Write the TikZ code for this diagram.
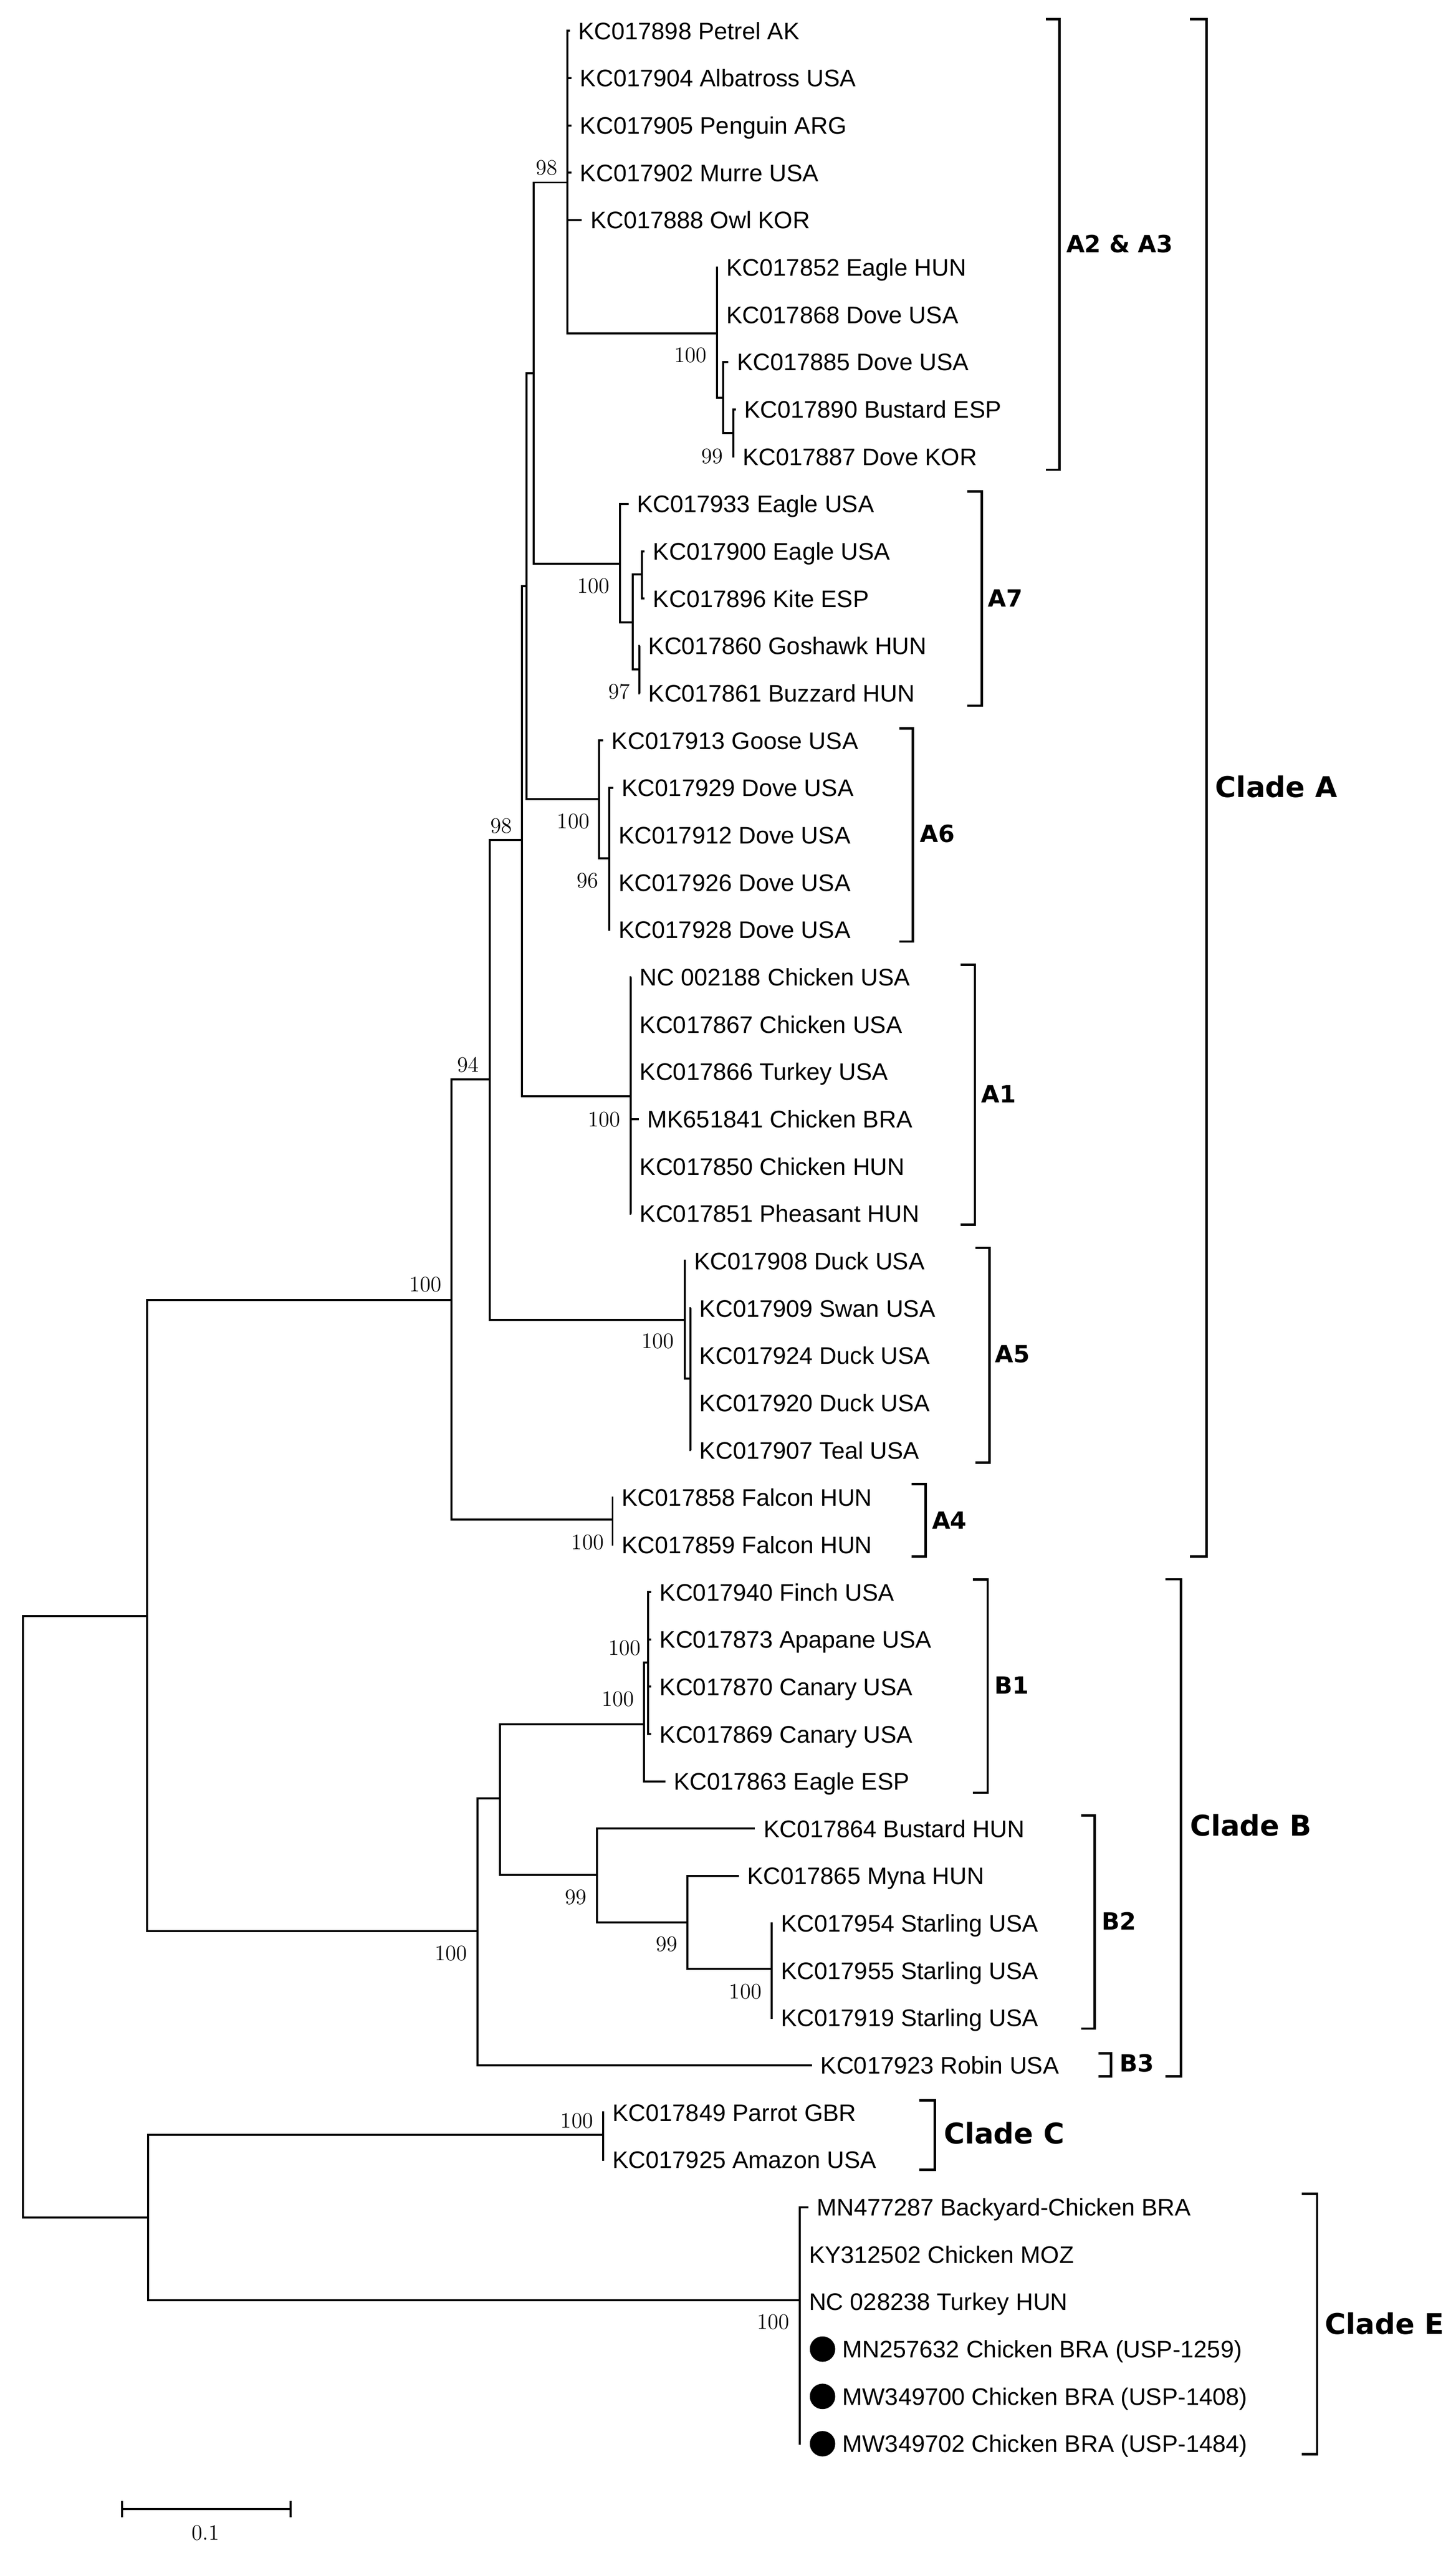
\documentclass[tikz,border=0pt]{standalone}
\usepackage{fontspec}
\newfontfamily\leaffont{Liberation Sans}
\newfontfamily\cladefont{DejaVu Sans}
\begin{document}
\begin{tikzpicture}[x=1pt,y=-1pt,
  br/.style={line width=1.25pt},
  bk/.style={line width=1.5pt},
  leaf/.style={anchor=base west,inner sep=0pt,font=\leaffont\fontsize{14.7}{16}\selectfont},
  bs/.style={inner sep=0pt,font=\rmfamily\fontsize{13.5}{14}\selectfont},
  sub/.style={anchor=west,inner sep=0pt,font=\cladefont\bfseries\fontsize{14.5}{16}\selectfont},
  clade/.style={anchor=west,inner sep=0pt,font=\cladefont\bfseries\fontsize{17.5}{20}\selectfont},
  dot/.style={circle,fill=black,inner sep=0pt,minimum size=15.6pt}]
\useasboundingbox (0,0) rectangle (893,1566.5);
% internal nodes
\coordinate (root) at (14,1176);
\coordinate (nAB) at (90.3,991.7);
\coordinate (nA) at (277,797.7);
\coordinate (n94) at (300.4,662.3);
\coordinate (n98b) at (320.2,515.5);
\coordinate (nX) at (323,359.6);
\coordinate (nY) at (327.3,229);
\coordinate (nA23) at (348.2,112);
\coordinate (nSub) at (439.8,204.5);
\coordinate (n885) at (443.6,244);
\coordinate (n890) at (449.9,265.6);
\coordinate (nA7) at (380.3,346);
\coordinate (nA7b) at (388.1,382);
\coordinate (n900) at (393.8,352.6);
\coordinate (n860) at (392.1,410.8);
\coordinate (nA6) at (367.6,490.4);
\coordinate (n929) at (373.9,526.7);
\coordinate (nA1) at (386.8,672.5);
\coordinate (nA5) at (420.2,809.9);
\coordinate (n909) at (423.5,845.8);
\coordinate (nA4) at (375.8,932.5);
\coordinate (nB) at (292.8,1185);
\coordinate (nB12) at (306.8,1103.5);
\coordinate (nB1) at (395,1057.9);
\coordinate (nBA) at (397.6,1020);
\coordinate (nB2) at (366.3,1150.5);
\coordinate (n99b) at (421.8,1179.7);
\coordinate (nSt) at (473.5,1208.2);
\coordinate (nCE) at (91,1360.6);
\coordinate (nC) at (370.1,1310);
\coordinate (nE) at (490.6,1411.4);
% internal branches
\foreach \p/\c in {root/nAB,root/nCE,nAB/nA,nAB/nB,nA/n94,nA/nA4,n94/n98b,n94/nA5,n98b/nX,n98b/nA1,
  nX/nY,nX/nA6,nY/nA23,nY/nA7,nA23/nSub,nSub/n885,n885/n890,nA7/nA7b,nA7b/n900,nA7b/n860,
  nA6/n929,nA5/n909,nB/nB12,nB12/nB1,nB12/nB2,nB1/nBA,nB2/n99b,n99b/nSt,nCE/nC,nCE/nE}
  \draw[br] (\p) |- (\c);
% leaves
\foreach \i/\tx/\p/\t in {
 1/349.6/nA23/KC017898 Petrel AK,
 2/350.7/nA23/KC017904 Albatross USA,
 3/350.7/nA23/KC017905 Penguin ARG,
 4/350.7/nA23/KC017902 Murre USA,
 5/357/nA23/KC017888 Owl KOR,
 6/440.5/nSub/KC017852 Eagle HUN,
 7/440.5/nSub/KC017868 Dove USA,
 8/446.9/n885/KC017885 Dove USA,
 9/451.4/n890/KC017890 Bustard ESP,
 10/450.4/n890/KC017887 Dove KOR,
 11/385.6/nA7/KC017933 Eagle USA,
 12/395.5/n900/KC017900 Eagle USA,
 13/395.5/n900/KC017896 Kite ESP,
 14/392.6/n860/KC017860 Goshawk HUN,
 15/392.6/n860/KC017861 Buzzard HUN,
 16/370.1/nA6/KC017913 Goose USA,
 17/376.3/n929/KC017929 Dove USA,
 18/374.4/n929/KC017912 Dove USA,
 19/374.4/n929/KC017926 Dove USA,
 20/374.4/n929/KC017928 Dove USA,
 21/387.3/nA1/NC 002188 Chicken USA,
 22/387.3/nA1/KC017867 Chicken USA,
 23/387.3/nA1/KC017866 Turkey USA,
 24/391.9/nA1/MK651841 Chicken BRA,
 25/387.3/nA1/KC017850 Chicken HUN,
 26/387.3/nA1/KC017851 Pheasant HUN,
 27/420.7/nA5/KC017908 Duck USA,
 28/424/n909/KC017909 Swan USA,
 29/424/n909/KC017924 Duck USA,
 30/424/n909/KC017920 Duck USA,
 31/424/n909/KC017907 Teal USA,
 32/376.3/nA4/KC017858 Falcon HUN,
 33/376.3/nA4/KC017859 Falcon HUN,
 34/399.5/nBA/KC017940 Finch USA,
 35/399.5/nBA/KC017873 Apapane USA,
 36/399.5/nBA/KC017870 Canary USA,
 37/399.5/nBA/KC017869 Canary USA,
 38/408.1/nB1/KC017863 Eagle ESP,
 39/463.2/nB2/KC017864 Bustard HUN,
 40/453.3/n99b/KC017865 Myna HUN,
 41/474/nSt/KC017954 Starling USA,
 42/474/nSt/KC017955 Starling USA,
 43/474/nSt/KC017919 Starling USA,
 44/498.2/nB/KC017923 Robin USA,
 45/370.6/nC/KC017849 Parrot GBR,
 46/370.6/nC/KC017925 Amazon USA,
 47/495.8/nE/MN477287 Backyard-Chicken BRA,
 48/491.1/nE/KY312502 Chicken MOZ,
 49/491.1/nE/NC 028238 Turkey HUN}{
  \coordinate (t\i) at (\tx,{18.9+29.03*(\i-1)});
  \draw[br] (\p) |- (t\i);
  \node[leaf] (l\i) at ([xshift=5pt,yshift=-5.3pt]t\i) {\t};
}
\foreach \i/\t in {50/MN257632 Chicken BRA (USP-1259),51/MW349700 Chicken BRA (USP-1408),52/MW349702 Chicken BRA (USP-1484)}{
  \coordinate (t\i) at (491.1,{18.9+29.03*(\i-1)});
  \draw[br] (nE) |- (t\i);
  \node[dot] (d\i) at (504.6,{18.9+29.03*(\i-1)}) {};
  \node[leaf] (l\i) at ([xshift=25.5pt,yshift=-5.3pt]t\i) {\t};
}
% bootstrap values
\foreach \x/\y/\v [count=\k] in {335.5/102.9/98,423.6/217.8/100,436.8/279.9/99,364.1/359.6/100,379.8/424.4/97,
  307.4/506.8/98,351.7/504/100,360.6/540.3/96,287.1/653.5/94,370.7/686.8/100,261/788.1/100,
  403.6/823/100,360.5/946.5/100,383.1/1011.3/100,379.1/1042.6/100,276.6/1198.7/100,353.3/1164/99,
  409/1193/99,457.3/1222.2/100,353.9/1301.3/100,474.4/1424.7/100}
  \node[bs] (bs\k) at (\x,\y) {\v};
% brackets and labels
\foreach \n/\a/\b/\ya/\yb in {a23/641.6/650/11.8/288.2, cA/730/740.2/11.8/955, a7/593.4/602.3/301.6/433,
  a6/551.7/560/447/577.7, a1/589.3/598.1/592/751.5, a5/598.4/607/765.7/897.4, a4/559.2/567.8/910.6/955,
  b1/596.9/605.9/969.3/1100, b2/663.3/671.6/1114/1244.7, b3/673.9/681.6/1260/1274, cB/715/724.6/969/1274,
  cC/563.8/573.5/1288.7/1331.3, cE/798.6/808/1346.1/1505.9}
  \draw[bk] (\a,\ya) -- (\b,\ya) -- (\b,\yb) -- (\a,\yb);
\node[sub] (LA23) at (654,149.5) {A2 \& A3};
\node[sub] (LA7) at (606,367) {A7};
\node[sub] (LA6) at (564.3,511.6) {A6};
\node[sub] (LA1) at (601.8,671.4) {A1};
\node[sub] (LA5) at (610.4,831) {A5};
\node[sub] (LA4) at (571.6,932.8) {A4};
\node[sub] (LB1) at (610,1034) {B1};
\node[sub] (LB2) at (675.6,1178.8) {B2};
\node[sub] (LB3) at (686.7,1266) {B3};
\node[clade] (LcA) at (745.4,482.8) {Clade A};
\node[clade] (LcB) at (729.8,1120) {Clade B};
\node[clade] (LcC) at (578.8,1309) {Clade C};
\node[clade] (LcE) at (812.7,1425.6) {Clade E};
% scale bar
\coordinate (sb1) at (74.8,1539.4);
\coordinate (sb2) at (178.2,1539.4);
\draw[br] (sb1) -- (sb2);
\draw[br] ([yshift=5pt]sb1) -- ([yshift=-5pt]sb1);
\draw[br] ([yshift=5pt]sb2) -- ([yshift=-5pt]sb2);
\node[bs] (sbl) at (126.2,1554.3) {0.1};
\end{tikzpicture}
\end{document}
